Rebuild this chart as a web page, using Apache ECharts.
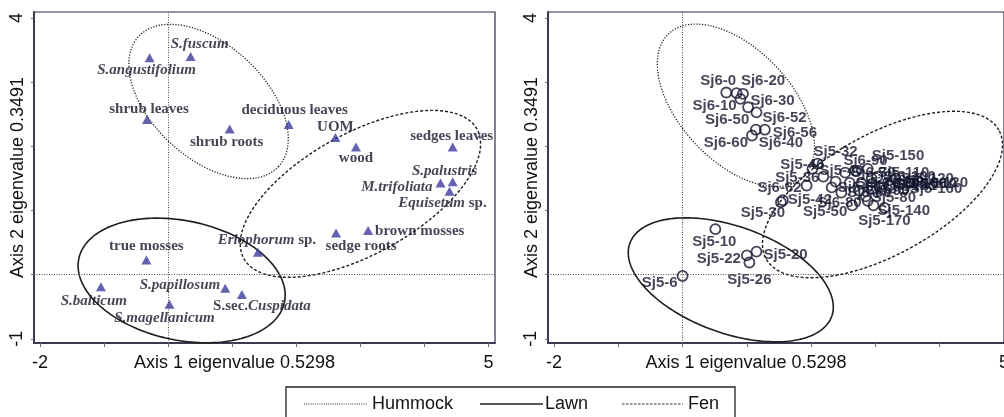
<!DOCTYPE html>
<html>
<head>
<meta charset="utf-8">
<script src="https://cdn.jsdelivr.net/npm/echarts@6/dist/echarts.min.js"></script>
<style>
  html, body { margin: 0; padding: 0; background: #fff; }
  #chart { width: 1004px; height: 417px; }
</style>
</head>
<body>
<div id="chart"></div>
<script>
// ---- CCA scores: species (left panel) ----
const speciesNames = ['S.fuscum', 'S.angustifolium', 'shrub leaves', 'shrub roots', 'deciduous leaves',
  'UOM', 'wood', 'sedges leaves', 'S.palustris', 'M.trifoliata', 'Equisetum sp.', 'brown mosses',
  'sedge roots', 'Eriophorum sp.', 'true mosses', 'S.balticum', 'S.papillosum', 'S.sec.Cuspidata', 'S.magellanicum'];
const speciesAxis1 = [0.35, -0.29, -0.33, 0.96, 1.88, 2.61, 2.93, 4.44, 4.44, 4.25, 4.39, 3.12, 2.62, 1.40, -0.34, -1.05, 0.89, 1.15, 0.02];
const speciesAxis2 = [3.40, 3.38, 2.42, 2.27, 2.34, 2.14, 1.99, 1.99, 1.45, 1.43, 1.30, 0.69, 0.65, 0.35, 0.23, -0.19, -0.21, -0.31, -0.46];

// ---- CCA scores: peat samples (right panel) ----
const sampleNames = ['Sj6-0', 'Sj6-10', 'Sj6-20', 'Sj6-30', 'Sj6-50', 'Sj6-52', 'Sj6-40', 'Sj6-56', 'Sj6-60',
  'Sj5-6', 'Sj5-10', 'Sj5-20', 'Sj5-22', 'Sj5-26',
  'Sj5-30', 'Sj5-42', 'Sj6-62', 'Sj5-46', 'Sj5-32', 'Sj5-36', 'Sj5-40', 'Sj6-90', 'Sj5-150', 'Sj5-110',
  'Sj5-100', 'Sj5-130', 'Sj5-80', 'Sj5-140', 'Sj5-50', 'Sj5-170', 'Sj6-80', 'Sj5-56', 'Sj5-60', 'Sj5-70',
  'Sj5-90', 'Sj5-120', 'Sj5-160', 'Sj6-70', 'Sj6-100', 'Sj6-110', 'Sj6-120', 'Sj6-130'];
const sampleAxis1 = [0.68, 0.84, 0.94, 0.90, 1.02, 1.15, 1.14, 1.28, 1.08,
  0.00, 0.51, 1.15, 1.00, 1.04,
  1.53, 1.56, 1.93, 2.02, 2.10, 2.19, 2.38, 2.69, 2.88, 2.94,
  3.22, 3.06, 2.85, 2.97, 2.64, 3.14, 2.88, 2.32, 2.47, 2.60,
  2.75, 3.31, 3.44, 2.53, 3.03, 3.37, 3.53, 2.78];
const sampleAxis2 = [2.84, 2.83, 2.82, 2.74, 2.61, 2.53, 2.26, 2.26, 2.17,
  -0.02, 0.71, 0.36, 0.30, 0.19,
  1.13, 1.16, 1.39, 1.65, 1.73, 1.53, 1.45, 1.62, 1.65, 1.50,
  1.39, 1.37, 1.22, 1.08, 1.08, 1.04, 1.15, 1.36, 1.28, 1.43,
  1.31, 1.50, 1.34, 1.59, 1.53, 1.42, 1.43, 1.42];

// ---- group ellipses: [group, centre axis 1, centre axis 2, semi-major, semi-minor, tilt in degrees] ----
const speciesEllipses = [
  ['Hummock', 0.63, 2.70, 1.49, 0.88, -43],
  ['Lawn', 0.21, -0.09, 1.64, 0.93, -12],
  ['Fen', 3.00, 1.26, 2.08, 0.94, 29]
];
const sampleEllipses = [
  ['Hummock', 0.83, 2.64, 1.53, 0.87, -47],
  ['Lawn', 0.75, -0.08, 1.67, 0.83, -20],
  ['Fen', 3.11, 1.25, 2.07, 0.94, 29]
];

// ---- axes ----
const xTicks = [-2, -1, 0, 1, 2, 3, 4, 5];
const xTickLabels = [-2, 5];
const yTicks = [-1, 0, 1, 2, 3, 4];
const yTickLabels = [-1, 4];
const xTitle = 'Axis 1 eigenvalue 0.5298';
const yTitle = 'Axis 2 eigenvalue 0.3491';
const groups = ['Hummock', 'Lawn', 'Fen'];

// label anchor per point: [align, dx, dy] in pixels from the symbol centre
const speciesLabelPlace = {
  'S.fuscum': ['center', 9, -12], 'S.angustifolium': ['center', -3, 12], 'shrub leaves': ['center', 2, -10],
  'shrub roots': ['center', -3, 13], 'deciduous leaves': ['center', 6, -14], 'UOM': ['center', 0, -10],
  'wood': ['center', 0, 11], 'sedges leaves': ['center', -1, -11], 'S.palustris': ['center', -8, -11],
  'M.trifoliata': ['right', -8, 4], 'Equisetum sp.': ['center', -7, 12], 'brown mosses': ['left', 7, 1],
  'sedge roots': ['center', 25, 13], 'Eriophorum sp.': ['center', 9, -12], 'true mosses': ['center', 0, -14],
  'S.balticum': ['center', -7, 14], 'S.papillosum': ['right', -5, -3], 'S.sec.Cuspidata': ['center', 20, 12],
  'S.magellanicum': ['center', -5, 14]
};
const sampleLabelPlace = {
  'Sj6-0': ['center', -8, -12], 'Sj6-20': ['center', 20, -13], 'Sj6-10': ['center', -22, 13],
  'Sj6-30': ['left', 10, 2], 'Sj6-50': ['center', -21, 13], 'Sj6-52': ['left', 6, 5],
  'Sj6-56': ['left', 8, 3], 'Sj6-60': ['right', -4, 7], 'Sj6-40': ['left', 3, 13],
  'Sj5-10': ['center', -1, 13], 'Sj5-22': ['right', -6, 3], 'Sj5-20': ['left', 7, 3],
  'Sj5-26': ['center', 0, 17], 'Sj5-6': ['right', -5, 7],
  'Sj5-30': ['center', -18, 11], 'Sj5-42': ['left', 5, 0], 'Sj6-62': ['right', -5, 2],
  'Sj5-46': ['center', -10, -4], 'Sj5-32': ['center', 18, -12], 'Sj5-36': ['right', -4, 1],
  'Sj5-40': ['center', 6, -11], 'Sj6-90': ['center', 10, -10], 'Sj5-150': ['left', 4, -13],
  'Sj5-110': ['left', 6, -6], 'Sj5-100': ['left', 5, -2], 'Sj5-130': ['left', 4, -1],
  'Sj5-80': ['left', 6, 1], 'Sj5-140': ['left', 4, 5], 'Sj5-50': ['right', -5, 6],
  'Sj5-170': ['center', 0, 13], 'Sj6-80': ['right', -6, 2]
};

const INK = '#15152e';
const ellipseStyle = {
  Hummock: { lineDash: [1.2, 1.6], lineWidth: 1.3 },
  Lawn: { lineDash: null, lineWidth: 1.6 },
  Fen: { lineDash: [3, 2], lineWidth: 1.4 }
};

function richSpecies(name) {
  if (/ sp\.$/.test(name)) return '{i|' + name.replace(/ sp\.$/, '') + '} sp.';
  if (name.indexOf('S.sec.') === 0) return 'S.sec.{i|' + name.slice(6) + '}';
  if (/^[A-Z]\./.test(name)) return '{i|' + name + '}';
  return name;
}

function pointData(names, xs, ys, place, fmt) {
  return names.map((n, i) => {
    const p = place[n] || ['left', 6, 0];
    return {
      name: n,
      value: [xs[i], ys[i]],
      label: { align: p[0], offset: [p[1], p[2]], formatter: fmt ? fmt(n) : n }
    };
  });
}

function ellipseSeries(list, gi) {
  return list.map(e => ({
    type: 'custom',
    xAxisIndex: gi, yAxisIndex: gi,
    silent: true,
    z: 1,
    data: [e.slice(1)],
    renderItem: function (params, api) {
      const cx = api.value(0), cy = api.value(1), a = api.value(2), b = api.value(3);
      const th = api.value(4) * Math.PI / 180;
      const pts = [];
      for (let k = 0; k < 180; k++) {
        const t = k / 180 * Math.PI * 2;
        const ex = a * Math.cos(t), ey = b * Math.sin(t);
        pts.push(api.coord([cx + ex * Math.cos(th) - ey * Math.sin(th), cy + ex * Math.sin(th) + ey * Math.cos(th)]));
      }
      const st = ellipseStyle[e[0]];
      return {
        type: 'polygon',
        shape: { points: pts },
        style: { fill: 'none', stroke: '#1e1e1e', lineWidth: st.lineWidth, lineDash: st.lineDash }
      };
    }
  }));
}

const zeroLines = {
  silent: true, symbol: 'none', label: { show: false },
  lineStyle: { type: [1, 1.5], color: '#4a4a4a', width: 1 },
  data: [{ xAxis: 0 }, { yAxis: 0 }]
};

function makeX(gi, min, max) {
  return {
    type: 'value', gridIndex: gi, min: min, max: max,
    axisLine: { show: true, onZero: false, lineStyle: { color: '#3a3a52', width: 2 } },
    axisTick: { show: true, customValues: xTicks, length: 4, lineStyle: { color: '#6a6a78', width: 1 } },
    axisLabel: { customValues: xTickLabels, fontSize: 18, fontFamily: 'Liberation Sans', color: '#111', margin: 11 },
    splitLine: { show: false },
    name: xTitle, nameLocation: 'middle', nameGap: 11, nameMoveOverlap: false,
    nameTextStyle: { fontSize: 18, fontFamily: 'Liberation Sans', color: '#111', padding: [0, 60, 0, 0], verticalAlign: 'top' }
  };
}
function makeY(gi) {
  return {
    type: 'value', gridIndex: gi, min: -1.065, max: 4.095,
    axisLine: { show: true, onZero: false, lineStyle: { color: '#3a3a52', width: 2 } },
    axisTick: { show: true, customValues: yTicks, length: 3, lineStyle: { color: '#6a6a78', width: 1 } },
    axisLabel: { customValues: yTickLabels, rotate: 90, fontSize: 18, fontFamily: 'Liberation Sans', color: '#111', margin: 8 },
    splitLine: { show: false },
    name: yTitle, nameLocation: 'middle', nameGap: 7, nameRotate: 90, nameMoveOverlap: false,
    nameTextStyle: { fontSize: 18, fontFamily: 'Liberation Sans', color: '#111', verticalAlign: 'bottom' }
  };
}

const chart = echarts.init(document.getElementById('chart'), null, { renderer: 'canvas' });
chart.setOption({
  animation: false,
  backgroundColor: '#fff',
  grid: [
    { left: 34, top: 12, width: 461, height: 331, show: true, borderColor: '#2e2e48', borderWidth: 1.2, containLabel: false, outerBoundsMode: 'none' },
    { left: 548, top: 12, width: 456, height: 331, show: true, borderColor: '#2e2e48', borderWidth: 1.2, containLabel: false, outerBoundsMode: 'none' }
  ],
  xAxis: [makeX(0, -2.094, 5.1), makeX(1, -2.093, 5.0)],
  yAxis: [makeY(0), makeY(1)],
  series: [
    ...ellipseSeries(speciesEllipses, 0),
    ...ellipseSeries(sampleEllipses, 1),
    {
      type: 'scatter', xAxisIndex: 0, yAxisIndex: 0, z: 3,
      symbol: 'triangle', symbolSize: [10, 9],
      itemStyle: { color: '#3b3b9e' },
      label: {
        show: true, position: 'inside', verticalAlign: 'middle',
        fontFamily: 'Liberation Serif', fontWeight: 'bold', fontSize: 15, color: '#15152a',
        rich: { i: { fontFamily: 'Liberation Serif', fontWeight: 'bold', fontStyle: 'italic', fontSize: 15, color: '#15152a' } }
      },
      data: pointData(speciesNames, speciesAxis1, speciesAxis2, speciesLabelPlace, richSpecies),
      markLine: zeroLines
    },
    {
      type: 'scatter', xAxisIndex: 1, yAxisIndex: 1, z: 3,
      symbol: 'circle', symbolSize: 10,
      itemStyle: { color: 'rgba(0,0,0,0)', borderColor: INK, borderWidth: 1.8 },
      label: {
        show: true, position: 'inside', verticalAlign: 'middle',
        fontFamily: 'Liberation Sans', fontWeight: 'bold', fontSize: 15, color: INK
      },
      data: pointData(sampleNames, sampleAxis1, sampleAxis2, sampleLabelPlace, null),
      markLine: zeroLines
    }
  ],
  graphic: [
    { type: 'rect', shape: { x: 286, y: 387, width: 449, height: 40 }, style: { fill: '#fff', stroke: '#222', lineWidth: 1.3 } },
    { type: 'line', shape: { x1: 304, y1: 404, x2: 367, y2: 404 }, style: { stroke: '#333', lineWidth: 1, lineDash: [1, 1.2] } },
    { type: 'text', x: 372, y: 404, style: { text: groups[0], font: '18px "Liberation Sans"', fill: '#111', verticalAlign: 'middle' } },
    { type: 'line', shape: { x1: 480, y1: 404, x2: 543, y2: 404 }, style: { stroke: '#222', lineWidth: 1.4 } },
    { type: 'text', x: 545, y: 404, style: { text: groups[1], font: '18px "Liberation Sans"', fill: '#111', verticalAlign: 'middle' } },
    { type: 'line', shape: { x1: 622, y1: 404, x2: 683, y2: 404 }, style: { stroke: '#333', lineWidth: 1, lineDash: [2.5, 1.5] } },
    { type: 'text', x: 688, y: 404, style: { text: groups[2], font: '18px "Liberation Sans"', fill: '#111', verticalAlign: 'middle' } }
  ]
});
</script>
</body>
</html>
